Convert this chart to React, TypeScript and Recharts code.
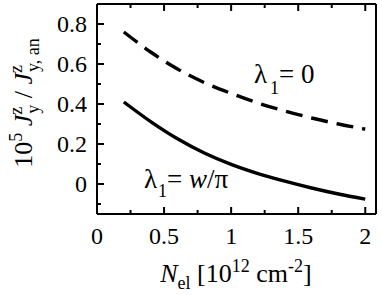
import React from 'react';
import { LineChart, Line, XAxis, YAxis } from 'recharts';

// electron density N_el [10^12 cm^-2]
const densities = [0.2, 0.4, 0.6, 0.8, 1.0, 1.2, 1.4, 1.6, 1.8, 2.0];
// lambda_1 = 0 (dashed)
const ratioLambdaZero = [0.76, 0.66, 0.575, 0.507, 0.453, 0.405, 0.365, 0.33, 0.3, 0.274];
// lambda_1 = w/pi (solid)
const ratioLambdaWPi = [0.41, 0.312, 0.226, 0.155, 0.098, 0.052, 0.014, -0.02, -0.05, -0.076];

const xTicks = [0, 0.25, 0.5, 0.75, 1, 1.25, 1.5, 1.75, 2];
const yTicks = [-0.1, 0, 0.1, 0.2, 0.3, 0.4, 0.5, 0.6, 0.7, 0.8];

const data = densities.map((n, i) => ({
  n,
  zero: ratioLambdaZero[i],
  wpi: ratioLambdaWPi[i],
}));

const FONT = 'Liberation Serif, Times New Roman, serif';
const MAJOR = 7;
const MINOR = 4;

const isMajorX = (v: number) => Math.abs(v * 2 - Math.round(v * 2)) < 1e-6;
const isMajorY = (v: number) => Math.abs(v * 5 - Math.round(v * 5)) < 1e-6;

const fmt = (v: number) => (Math.abs(v) < 1e-9 ? '0' : String(Math.round(v * 10) / 10));

const tick = (side: 'bottom' | 'top' | 'left' | 'right') => (props: any) => {
  const { x, y, payload } = props;
  const v = payload.value;
  const major = side === 'bottom' || side === 'top' ? isMajorX(v) : isMajorY(v);
  const len = major ? MAJOR : MINOR;
  let x2 = x;
  let y2 = y;
  if (side === 'bottom') y2 = y - len;
  if (side === 'top') y2 = y + len;
  if (side === 'left') x2 = x + len;
  if (side === 'right') x2 = x - len;
  return (
    <g>
      <line x1={x} y1={y} x2={x2} y2={y2} stroke="#000" strokeWidth={2} />
      {side === 'bottom' && major && (
        <text x={x} y={y + 30} textAnchor="middle" fontFamily={FONT} fontSize={24} fill="#000">
          {fmt(v)}
        </text>
      )}
      {side === 'left' && major && (
        <text x={x - 10} y={y + 8} textAnchor="end" fontFamily={FONT} fontSize={24} fill="#000">
          {fmt(v)}
        </text>
      )}
    </g>
  );
};

const axisLine = { stroke: '#000', strokeWidth: 2 };

export default function App() {
  return (
    <div style={{ position: 'absolute', left: 0, top: 0, width: 382, height: 295, background: '#fff' }}>
      <LineChart
        width={382}
        height={295}
        data={data}
        margin={{ top: 3, right: 5, bottom: 80, left: 96 }}
      >
        <XAxis
          dataKey="n"
          type="number"
          domain={[0, 2.08]}
          ticks={xTicks}
          interval={0}
          height={1}
          tickSize={0}
          tickMargin={0}
          axisLine={axisLine}
          tickLine={false}
          tick={tick('bottom')}
        />
        <XAxis
          xAxisId="top"
          orientation="top"
          dataKey="n"
          type="number"
          domain={[0, 2.08]}
          ticks={xTicks}
          interval={0}
          height={1}
          tickSize={0}
          tickMargin={0}
          axisLine={axisLine}
          tickLine={false}
          tick={tick('top')}
        />
        <YAxis
          type="number"
          domain={[-0.15, 0.9]}
          ticks={yTicks}
          interval={0}
          width={1}
          tickSize={0}
          tickMargin={0}
          axisLine={axisLine}
          tickLine={false}
          tick={tick('left')}
        />
        <YAxis
          yAxisId="right"
          orientation="right"
          type="number"
          domain={[-0.15, 0.9]}
          ticks={yTicks}
          interval={0}
          width={1}
          tickSize={0}
          tickMargin={0}
          axisLine={axisLine}
          tickLine={false}
          tick={tick('right')}
        />
        <Line
          type="monotone"
          dataKey="zero"
          stroke="#000"
          strokeWidth={3.4}
          strokeDasharray="17 9"
          dot={false}
          activeDot={false}
          isAnimationActive={false}
        />
        <Line
          type="monotone"
          dataKey="wpi"
          stroke="#000"
          strokeWidth={3.4}
          dot={false}
          activeDot={false}
          isAnimationActive={false}
        />
      </LineChart>
      <svg
        width={382}
        height={295}
        style={{ position: 'absolute', left: 0, top: 0, pointerEvents: 'none' }}
        fontFamily={FONT}
        fill="#000"
      >
        <text transform="translate(32,103) rotate(-90)" textAnchor="middle" fontSize={26}>
          10
          <tspan fontSize={18} dy={-10}>5</tspan>
          <tspan dy={10}> </tspan>
          <tspan fontStyle="italic">J</tspan>
          <tspan fontSize={18} dy={-10}>z</tspan>
          <tspan fontSize={18} dx={-7} dy={17}>y</tspan>
          <tspan dy={-7}> / </tspan>
          <tspan fontStyle="italic">J</tspan>
          <tspan fontSize={18} dy={-10}>z</tspan>
          <tspan fontSize={18} dx={-7} dy={17}>y, an</tspan>
        </text>
        <text x={236} y={282} textAnchor="middle" fontSize={26}>
          <tspan fontStyle="italic">N</tspan>
          <tspan fontSize={18} dy={7}>el</tspan>
          <tspan dy={-7}>{'  [10'}</tspan>
          <tspan fontSize={18} dy={-10}>12</tspan>
          <tspan dy={10}> cm</tspan>
          <tspan fontSize={18} dy={-10}>-2</tspan>
          <tspan dy={10}>]</tspan>
        </text>
        <text x={254} y={83} fontSize={27}>
          λ
          <tspan fontSize={18} dx={3} dy={11}>1</tspan>
          <tspan dy={-11}>= 0</tspan>
        </text>
        <text x={144} y={188} fontSize={27}>
          λ
          <tspan fontSize={18} dx={1} dy={9}>1</tspan>
          <tspan dy={-9}>= </tspan>
          <tspan fontStyle="italic">w</tspan>
          /π
        </text>
      </svg>
    </div>
  );
}
